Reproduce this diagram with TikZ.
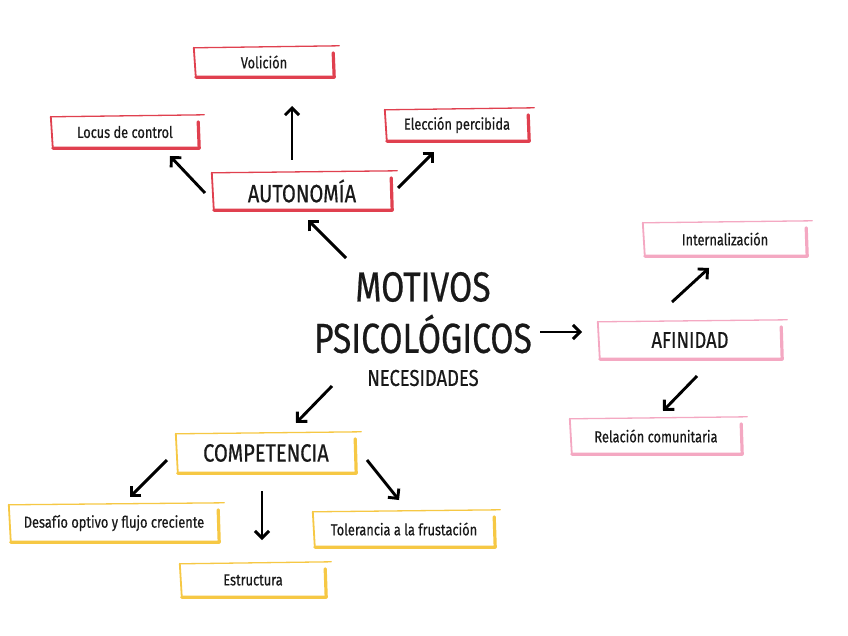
\documentclass[tikz,border=0pt]{standalone}
\usepackage{fontspec}
\setmainfont{Fira Sans}[FakeStretch=0.8, FakeBold=0.5]
\usetikzlibrary{arrows.meta,calc}
\definecolor{cred}{HTML}{E0404F}
\definecolor{cpink}{HTML}{F4A8C2}
\definecolor{cyel}{HTML}{F6C844}
\newcommand\skbox[2]{%
  \draw[#2, line width=1.3pt, line cap=round] ($(#1.north west)+(0,1)$) -- ($(#1.north east)+(5,-1)$);
  \draw[#2, line width=1.8pt, line cap=round] ($(#1.north west)+(0,1)$) -- ($(#1.south west)+(2,0)$);
  \draw[#2, line width=3.2pt, line cap=round, line join=round] ($(#1.south west)+(2,0)$) -- (#1.south east) -- ($(#1.north east)+(-1,6)$);
}
\tikzset{
  bx/.style={inner sep=0pt, font=\fontsize{16}{18}\selectfont, text=black!90},
  big/.style={inner sep=0pt, font=\fontsize{25}{28}\selectfont, text=black!90},
  arr/.style={line width=2.9pt, -{Straight Barb[length=7pt,width=14pt,line width=2.9pt]}, black},
}
\begin{document}
\begin{tikzpicture}[x={(1pt,0)}, y={(0,-1pt)}]
\useasboundingbox (0,0) rectangle (848,636);
\fill[white] (0,0) rectangle (848,636);
% nodes
\node[bx, minimum width=140pt, minimum height=30pt] (vol) at (264,62) {Volición};
\node[bx, minimum width=148pt, minimum height=32pt] (locus) at (125,132) {Locus de control};
\node[bx, minimum width=144pt, minimum height=32pt] (elec) at (457,125) {Elección percibida};
\node[big, minimum width=180pt, minimum height=38pt] (auto) at (302,191) {AUTONOMÍA};
\node[bx, minimum width=164pt, minimum height=34pt] (intern) at (725,239) {Internalización};
\node[big, font=\fontsize{23}{26}\selectfont, minimum width=184pt, minimum height=38pt] (afin) at (690,340) {AFINIDAD};
\node[bx, minimum width=172pt, minimum height=36pt] (rel) at (656,436) {Relación comunitaria};
\node[big, minimum width=180pt, minimum height=40pt] (comp) at (266,453) {COMPETENCIA};
\node[bx, minimum width=210pt, minimum height=38pt] (des) at (114,523) {Desafío optivo y flujo creciente};
\node[bx, minimum width=182pt, minimum height=36pt] (tol) at (404,529) {Tolerancia a la frustación};
\node[bx, minimum width=146pt, minimum height=34pt] (est) at (253,580) {Estructura};
\node[inner sep=0pt, font=\fontsize{42}{44}\selectfont, text=black!90] (m1) at (423,287) {MOTIVOS};
\node[inner sep=0pt, font=\fontsize{42}{44}\selectfont, text=black!90] (m2) at (423,334) {PSICOLÓGICOS};
\node[inner sep=0pt, font=\fontsize{23}{25}\selectfont, text=black!90] (m3) at (423,378) {NECESIDADES};
% boxes
\skbox{vol}{cred}
\skbox{locus}{cred}
\skbox{elec}{cred}
\skbox{auto}{cred}
\skbox{intern}{cpink}
\skbox{afin}{cpink}
\skbox{rel}{cpink}
\skbox{comp}{cyel}
\skbox{des}{cyel}
\skbox{tol}{cyel}
\skbox{est}{cyel}
% arrow ends
\coordinate (a1s) at (292,160); \coordinate (a1e) at (292,106);
\coordinate (a2s) at (205,193); \coordinate (a2e) at (170,156);
\coordinate (a3s) at (398,188); \coordinate (a3e) at (434,152);
\coordinate (a4s) at (346,258); \coordinate (a4e) at (308,220);
\coordinate (a5s) at (672,302); \coordinate (a5e) at (709,268);
\coordinate (a6s) at (540,332); \coordinate (a6e) at (582,332);
\coordinate (a7s) at (697,376); \coordinate (a7e) at (663,411);
\coordinate (a8s) at (332,386); \coordinate (a8e) at (296,423);
\coordinate (a9s) at (167,460); \coordinate (a9e) at (130,497);
\coordinate (a10s) at (262,491); \coordinate (a10e) at (262,540);
\coordinate (a11s) at (367,460); \coordinate (a11e) at (399,500);
\foreach \i in {1,...,11} {\draw[arr] (a\i s) -- (a\i e);}
\end{tikzpicture}
\end{document}
